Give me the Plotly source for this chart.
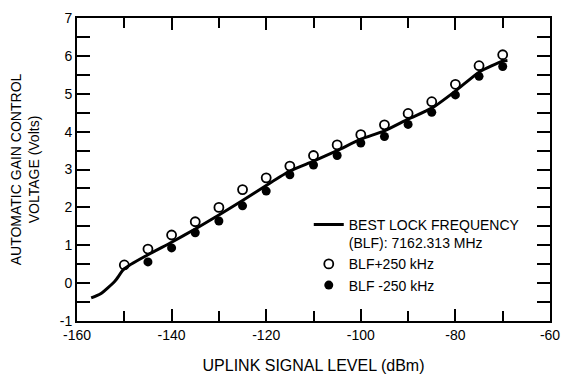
import plotly.graph_objects as go

# Data
blf_x = [-157, -155, -152, -150, -145, -140, -135, -130, -125, -120, -115, -110,
         -105, -100, -95, -90, -85, -80, -75, -70, -69]
blf_y = [-0.39, -0.28, 0.05, 0.38, 0.75, 1.08, 1.43, 1.80, 2.18, 2.58, 2.96, 3.22,
         3.50, 3.80, 4.02, 4.33, 4.62, 5.07, 5.57, 5.86, 5.88]

pts_x = [-150, -145, -140, -135, -130, -125, -120, -115, -110, -105, -100, -95,
         -90, -85, -80, -75, -70]
plus_y = [0.48, 0.90, 1.27, 1.62, 2.00, 2.47, 2.78, 3.09, 3.37, 3.65, 3.92, 4.18,
          4.48, 4.79, 5.25, 5.74, 6.03]
minus_y = [None, 0.56, 0.93, 1.33, 1.64, 2.04, 2.43, 2.86, 3.12, 3.37, 3.70, 3.87,
           4.19, 4.51, 4.97, 5.46, 5.72]

x_tickvals = [-160, -140, -120, -100, -80, -60]
x_ticktext = ["-160", "-140", "-120", "-100", "-80", "-60"]
y_tickvals = [-1, 0, 1, 2, 3, 4, 5, 6, 7]
y_ticktext = ["-1", "0", "1", "2", "3", "4", "5", "6", "7"]

FONT = "Liberation Sans, Arial, Helvetica, sans-serif"

fig = go.Figure()
fig.add_trace(go.Scatter(
    x=blf_x, y=blf_y, mode="lines",
    line=dict(color="black", width=3, shape="spline", smoothing=0.6),
    name="BEST LOCK FREQUENCY<br>(BLF): 7162.313 MHz"))
fig.add_trace(go.Scatter(
    x=pts_x, y=plus_y, mode="markers",
    marker=dict(symbol="circle-open", size=9, color="black", line=dict(width=1.8, color="black")),
    name="BLF+250 kHz"))
fig.add_trace(go.Scatter(
    x=pts_x, y=minus_y, mode="markers",
    marker=dict(symbol="circle", size=9, color="black"),
    name="BLF -250 kHz"))

axis_common = dict(
    showline=True, linewidth=2, linecolor="black", mirror="ticks",
    ticks="inside", tickcolor="black", tickwidth=1.5,
    showgrid=False, zeroline=False, automargin=False,
    ticklabeloverflow="allow",
    tickfont=dict(family=FONT, size=14, color="black"),
)

fig.update_xaxes(
    range=[-160, -60], tickvals=x_tickvals, ticktext=x_ticktext, ticklen=12,
    minor=dict(dtick=10, tick0=-160, ticks="inside", ticklen=10, tickcolor="black", tickwidth=1.5),
    title=dict(text="UPLINK SIGNAL LEVEL (dBm)", font=dict(family=FONT, size=16, color="black"), standoff=18),
    **axis_common)
fig.update_yaxes(
    range=[-1, 7], tickvals=y_tickvals, ticktext=y_ticktext, ticklen=13,
    minor=dict(dtick=0.5, tick0=0, ticks="inside", ticklen=13, tickcolor="black", tickwidth=1.5),
    title=dict(text="AUTOMATIC GAIN CONTROL<br>VOLTAGE (Volts)", font=dict(family=FONT, size=14, color="black"), standoff=17),
    **axis_common)

fig.update_layout(
    width=564, height=378,
    margin=dict(l=77, r=14, t=18, b=57),
    paper_bgcolor="white", plot_bgcolor="white",
    font=dict(family=FONT, size=14, color="black"),
    showlegend=True,
    legend=dict(x=0.49, y=0.37, xanchor="left", yanchor="top",
                bgcolor="rgba(0,0,0,0)", borderwidth=0, valign="top",
                tracegroupgap=0, font=dict(family=FONT, size=14, color="black")),
)

fig.write_html("out.html", config={"displayModeBar": False},
               post_script="document.body.style.margin='0';document.body.style.overflow='hidden';")
